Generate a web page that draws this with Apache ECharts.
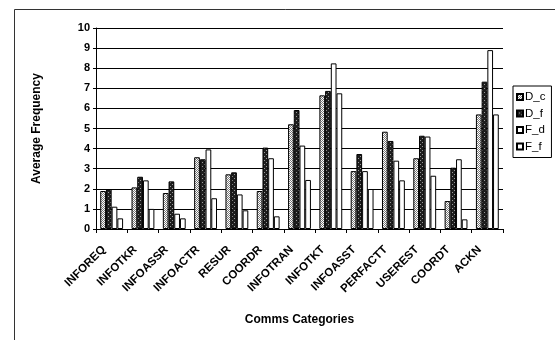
<!DOCTYPE html>
<html>
<head>
<meta charset="utf-8">
<script src="https://cdn.jsdelivr.net/npm/echarts@6/dist/echarts.min.js"></script>
<style>
html,body{margin:0;padding:0;background:#fff;}
#chart{width:555px;height:340px;}
</style>
</head>
<body>
<div id="chart"></div>
<script>
const categories = ['INFOREQ','INFOTKR','INFOASSR','INFOACTR','RESUR','COORDR','INFOTRAN','INFOTKT','INFOASST','PERFACTT','USEREST','COORDT','ACKN'];
const seriesNames = ['D_c','D_f','F_d','F_f'];
const D_c = [1.89, 2.07, 1.79, 3.57, 2.72, 1.89, 5.21, 6.65, 2.88, 4.84, 3.52, 1.39, 5.70];
const D_f = [1.97, 2.60, 2.37, 3.47, 2.82, 4.05, 5.92, 6.87, 3.73, 4.38, 4.64, 3.05, 7.33];
const F_d = [1.11, 2.42, 0.76, 3.96, 1.72, 3.52, 4.15, 8.24, 2.88, 3.40, 4.60, 3.47, 8.90];
const F_f = [0.53, 1.00, 0.53, 1.53, 0.93, 0.63, 2.44, 6.75, 1.99, 2.42, 2.65, 0.48, 5.70];
const yTicks = [0,1,2,3,4,5,6,7,8,9,10];

function makePattern(bg, fg, pts, size) {
  const c = document.createElement('canvas');
  c.width = size; c.height = size;
  const ctx = c.getContext('2d');
  ctx.fillStyle = bg; ctx.fillRect(0,0,size,size);
  ctx.fillStyle = fg;
  pts.forEach(p => ctx.fillRect(p[0], p[1], 1, 1));
  return c;
}
const lightPat = makePattern('#ffffff', '#7a7a7a', [[0,0],[1,1],[2,0],[0,2],[2,2],[3,1],[1,3],[3,3]], 4);
const darkPat = makePattern('#1e1e1e', '#9a9a9a', [[0,0],[2,2]], 4);

const fills = [
  {image: lightPat, repeat: 'repeat'},
  {image: darkPat, repeat: 'repeat'},
  '#ffffff',
  '#ffffff'
];
const dataSets = [D_c, D_f, F_d, F_f];
const font = 'Liberation Sans, Arial, sans-serif';

const chart = echarts.init(document.getElementById('chart'), null, {renderer: 'canvas'});
chart.setOption({
  animation: false,
  backgroundColor: '#fff',
  graphic: [{
    type: 'rect', left: 12, top: 7, silent: true,
    shape: {width: 600, height: 400},
    style: {fill: 'none', stroke: '#333', lineWidth: 1}
  }],
  grid: {left: 96, right: 52, top: 28, bottom: 111, containLabel: false},
  legend: {
    orient: 'vertical', left: 513, top: 86,
    data: seriesNames,
    icon: 'rect', itemWidth: 6, itemHeight: 6, itemGap: 4.5,
    borderColor: '#000', borderWidth: 1, borderRadius: 0,
    padding: [5, 6, 5, 3],
    textStyle: {fontFamily: font, fontSize: 11.5, color: '#000', lineHeight: 11, padding: [0,0,0,-3]}
  },
  xAxis: {
    type: 'category', data: categories,
    name: 'Comms Categories', nameLocation: 'middle', nameGap: 85,
    nameTextStyle: {fontFamily: font, fontSize: 12, fontWeight: 'bold', color: '#000'},
    axisLine: {lineStyle: {color: '#000', width: 1}},
    axisTick: {show: true, length: 4, alignWithLabel: false, lineStyle: {color: '#000'}},
    axisLabel: {interval: 0, rotate: 45, fontFamily: font, fontSize: 11.5, fontWeight: 'bold', color: '#000', margin: 11,
      padding: [0, 11, 0, 0]}
  },
  yAxis: {
    type: 'value', min: 0, max: 10, interval: 1,
    name: 'Average Frequency', nameLocation: 'middle', nameGap: 53,
    nameTextStyle: {fontFamily: font, fontSize: 12, fontWeight: 'bold', color: '#000'},
    axisLine: {show: true, lineStyle: {color: '#000', width: 1}},
    axisTick: {show: true, length: 3, lineStyle: {color: '#000'}},
    axisLabel: {fontFamily: font, fontSize: 11, fontWeight: 'bold', color: '#000', margin: 6,
      formatter: v => yTicks.includes(v) ? String(v) : ''},
    splitLine: {show: true, lineStyle: {color: '#000', width: 1}}
  },
  series: seriesNames.map((n, i) => ({
    name: n, type: 'bar', data: dataSets[i],
    barGap: '0%', barCategoryGap: '27%',
    itemStyle: {color: fills[i], borderColor: '#000', borderWidth: 1}
  }))
});
</script>
</body>
</html>
